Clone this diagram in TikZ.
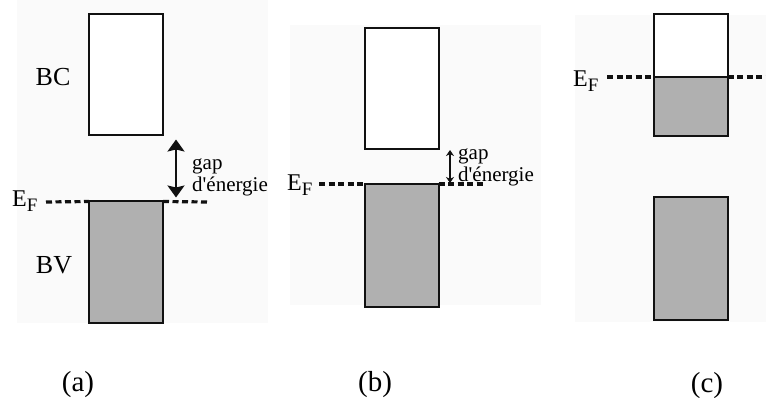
\documentclass[tikz,border=0pt]{standalone}
\usepackage{fontspec}
\setmainfont{Liberation Serif}
\usepackage{tikz}
\usetikzlibrary{arrows.meta,positioning}
\definecolor{bandgray}{HTML}{B0B0B0}
\definecolor{panelbg}{HTML}{FAFAFA}
\definecolor{ink}{HTML}{111111}
\newcommand{\fermiE}{E\raisebox{-5pt}{\fontsize{19}{22}\selectfont F}}
\tikzset{
    every picture/.style={line join=miter},
    band/.style={draw=ink,fill=white,line width=2pt,minimum width=74pt,
      minimum height=121pt,inner sep=0pt,outer sep=0pt},
    filled/.style={fill=bandgray},
    fermiline/.style={draw=ink,line width=3.2pt,dash pattern=on 6pt off 3.5pt},
    bigarrow/.style={{Stealth[length=12pt,width=17pt,inset=2pt]}-{Stealth[length=12pt,width=17pt,inset=2pt]},
      draw=ink,line width=2pt},
    smallarrow/.style={{Stealth[length=6pt,width=8pt]}-{Stealth[length=6pt,width=8pt]},
      draw=ink,line width=1.2pt},
    bandname/.style={inner sep=0pt,font=\fontsize{26}{30}\selectfont},
    fermilabel/.style={anchor=base west,inner sep=0pt,font=\fontsize{24}{28}\selectfont},
    gaplabel/.style={anchor=west,align=left,inner sep=0pt,font=\fontsize{21}{22}\selectfont},
    panellabel/.style={inner sep=0pt,font=\fontsize{29}{32}\selectfont},
    panel/.style={fill=panelbg}
}

\begin{document}
\begin{tikzpicture}[x=1pt,y=-1pt]
  \useasboundingbox (0,0) rectangle (766,398);
  \fill[panel] (17,0) rectangle (268,323);
  \fill[panel] (290,25) rectangle (541,305);
  \fill[panel] (575,15) rectangle (766,322);

  \node[band] (bcA) at (126,75) {};
  \node[band,filled] (bvA) at (126,262) {};
  \node[bandname] (bcAlab) at (53,77) {BC};
  \node[bandname] (bvAlab) at (54,265) {BV};
  \node[fermilabel] (efAlab) at (12,207) {\fermiE};
  \coordinate (efA) at (46,202);
  \coordinate (efAend) at (207,202);
  \draw[fermiline] (efA) -- (bvA.north west);
  \draw[fermiline] (bvA.north east) -- (efAend);
  \draw[bigarrow] ([xshift=13pt,yshift=-4pt]bcA.south east) -- ([xshift=13pt,yshift=4pt]bvA.north east);
  \node[gaplabel] (gapA) at (192,177) {gap\\d\textquotesingle énergie};
  \node[panellabel] (capA) at (78,385) {(a)};

  \node[band] (bcB) at (401.5,88.5) {};
  \node[band,filled,minimum height=123pt] (bvB) at (401.5,245.5) {};
  \node[fermilabel] (efBlab) at (287,191) {\fermiE};
  \coordinate (efB) at (319,184);
  \coordinate (efBend) at (483,184);
  \draw[fermiline] (efB) -- (bvB.north west);
  \draw[fermiline] (bvB.north east) -- (efBend);
  \draw[smallarrow] ([xshift=11.5pt,yshift=-1pt]bcB.south east) -- ([xshift=11.5pt,yshift=1pt]bvB.north east);
  \node[gaplabel] (gapB) at (458,167) {gap\\d\textquotesingle énergie};
  \node[panellabel] (capB) at (375,385) {(b)};

  \node[band,minimum height=63pt] (cTop) at (690.5,45.5) {};
  \node[band,filled,minimum height=59pt] (cMid) at (690.5,106.5) {};
  \node[band,filled,minimum height=123pt] (cLow) at (690.5,258.5) {};
  \node[fermilabel] (efClab) at (573,87) {\fermiE};
  \coordinate (efC) at (607,77);
  \coordinate (efCend) at (766,77);
  \draw[fermiline] (efC) -- (cMid.north west);
  \draw[fermiline] (cMid.north east) -- (efCend);
  \node[panellabel] (capC) at (707,386) {(c)};
\end{tikzpicture}
\end{document}
